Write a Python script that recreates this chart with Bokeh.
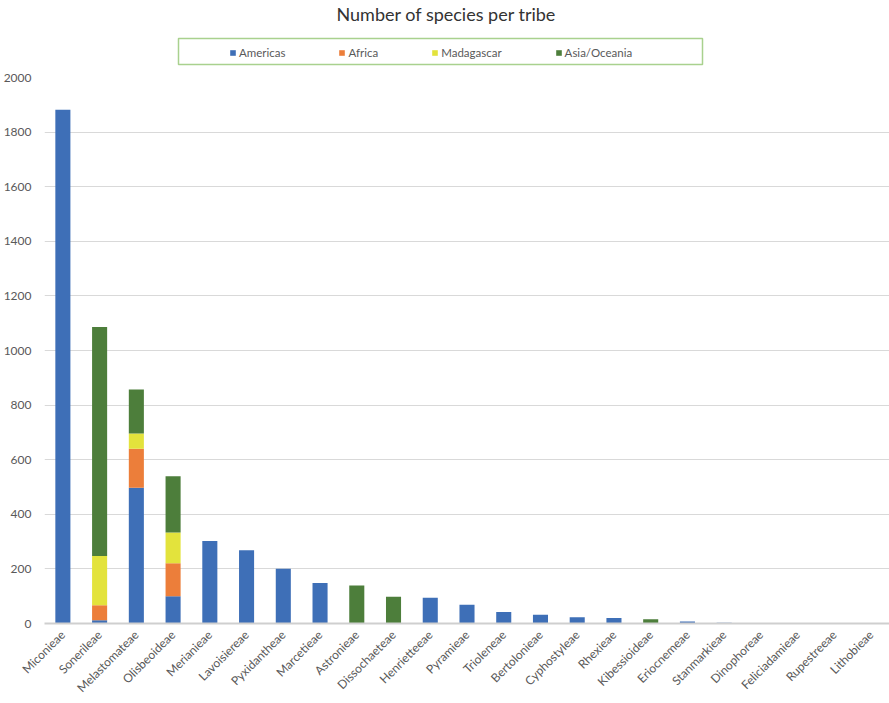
import math
from bokeh.plotting import figure
from bokeh.layouts import column
from bokeh.models import Legend, LegendItem, FactorRange, ColumnDataSource, Range1d
from bokeh.embed import file_html
from bokeh.resources import INLINE

tribes = ["Miconieae", "Sonerileae", "Melastomateae", "Olisbeoideae", "Merianieae",
          "Lavoisiereae", "Pyxidantheae", "Marcetieae", "Astronieae", "Dissochaeteae",
          "Henrietteeae", "Pyramieae", "Trioleneae", "Bertolonieae", "Cyphostyleae",
          "Rhexieae", "Kibessioideae", "Eriocnemeae", "Stanmarkieae", "Dinophoreae",
          "Feliciadamieae", "Rupestreeae", "Lithobieae"]
americas   = [1882, 12, 497, 100, 302, 268, 201, 148, 0, 0, 94, 69, 42, 32, 23, 20, 0, 7, 3, 0, 0, 1, 1]
africa     = [0, 55, 143, 121, 0, 0, 0, 0, 0, 0, 0, 0, 0, 0, 0, 0, 0, 0, 0, 1, 1, 0, 0]
madagascar = [0, 180, 56, 112, 0, 0, 0, 0, 0, 0, 0, 0, 0, 0, 0, 0, 0, 0, 0, 0, 0, 0, 0]
asia       = [0, 839, 161, 206, 0, 0, 0, 0, 139, 98, 0, 0, 0, 0, 0, 0, 16, 0, 0, 0, 0, 0, 0]
series = ["Americas", "Africa", "Madagascar", "Asia/Oceania"]
colors = ["#3e6fb7", "#ec7e3a", "#e3e33c", "#4d7e3b"]
y_ticks = list(range(0, 2001, 200))

src = ColumnDataSource(dict(tribe=tribes, Americas=americas, Africa=africa,
                            Madagascar=madagascar, **{"Asia/Oceania": asia}))

FONT = "Lato"
TXT = "#595959"

# ---- title strip ----
tfig = figure(width=889, height=30, output_backend="svg", toolbar_location=None,
              x_range=Range1d(0, 1), y_range=Range1d(0, 1),
              x_axis_location=None, y_axis_location=None,
              title="Number of species per tribe", frame_align=False)
tfig.min_border = 0
tfig.outline_line_color = None
tfig.xgrid.visible = False
tfig.ygrid.visible = False
tfig.title.text_font = FONT
tfig.title.text_font_size = "18px"
tfig.title.text_font_style = "normal"
tfig.title.text_color = "#333333"
tfig.title.align = "left"
tfig.title.offset = 336
tfig.title.standoff = 0

# ---- legend strip (frame outline acts as the legend box) ----
head = figure(width=889, height=40, output_backend="svg", toolbar_location=None,
              x_range=FactorRange(factors=tribes), y_range=Range1d(0, 1),
              x_axis_location=None, y_axis_location=None, frame_align=False)
head.min_border_left = 178
head.min_border_right = 187
head.min_border_top = 8
head.min_border_bottom = 6
head.outline_line_color = "#a9d18e"
head.outline_line_width = 1.5
head.xgrid.visible = False
head.ygrid.visible = False

# zero-height proxies so the legend can show each series' swatch
proxies = [head.vbar(x=tribes[:1], top=[0], bottom=[0], width=0.4, color=c, line_color=None)
           for c in colors]
items = [LegendItem(label=s, renderers=[r]) for s, r in zip(series, proxies)]
legend = Legend(items=items, orientation="horizontal", location=(51, 5))
legend.glyph_width = 7
legend.glyph_height = 7
legend.label_height = 12
legend.label_standoff = 3
legend.spacing = 53
legend.padding = 0
legend.margin = 0
legend.label_text_font = FONT
legend.label_text_font_size = "11.5px"
legend.label_text_color = TXT
legend.border_line_color = None
legend.background_fill_alpha = 0
head.add_layout(legend, "center")

# ---- main chart ----
p = figure(x_range=FactorRange(factors=tribes, range_padding=0), y_range=(0, 2000),
           width=889, height=633, output_backend="svg", toolbar_location=None,
           frame_align=False)
p.min_border_left = 43
p.min_border_right = 0
p.min_border_top = 7
p.min_border_bottom = 78
p.outline_line_color = None
p.background_fill_color = "white"

p.vbar_stack(series, x="tribe", width=0.41, source=src, color=colors, line_color=None)

p.yaxis.ticker = y_ticks
p.yaxis.axis_line_color = None
p.yaxis.major_tick_line_color = None
p.yaxis.minor_tick_line_color = None
p.yaxis.major_label_text_font = FONT
p.yaxis.major_label_text_font_size = "12px"
p.yaxis.major_label_text_color = TXT
p.yaxis.major_label_standoff = 7

p.xaxis.axis_line_color = "#cfcfcf"
p.xaxis.axis_line_width = 2
p.xaxis.major_tick_line_color = None
p.xaxis.minor_tick_line_color = None
p.xaxis.major_label_orientation = math.pi / 4
p.xaxis.major_label_text_font = FONT
p.xaxis.major_label_text_font_size = "12px"
p.xaxis.major_label_text_color = TXT
p.xaxis.major_label_standoff = 3

p.xgrid.grid_line_color = None
p.ygrid.grid_line_color = "#d9d9d9"
p.ygrid.grid_line_width = 1

layout = column(tfig, head, p, spacing=0)
open("out.html", "w").write(file_html(layout, INLINE))
